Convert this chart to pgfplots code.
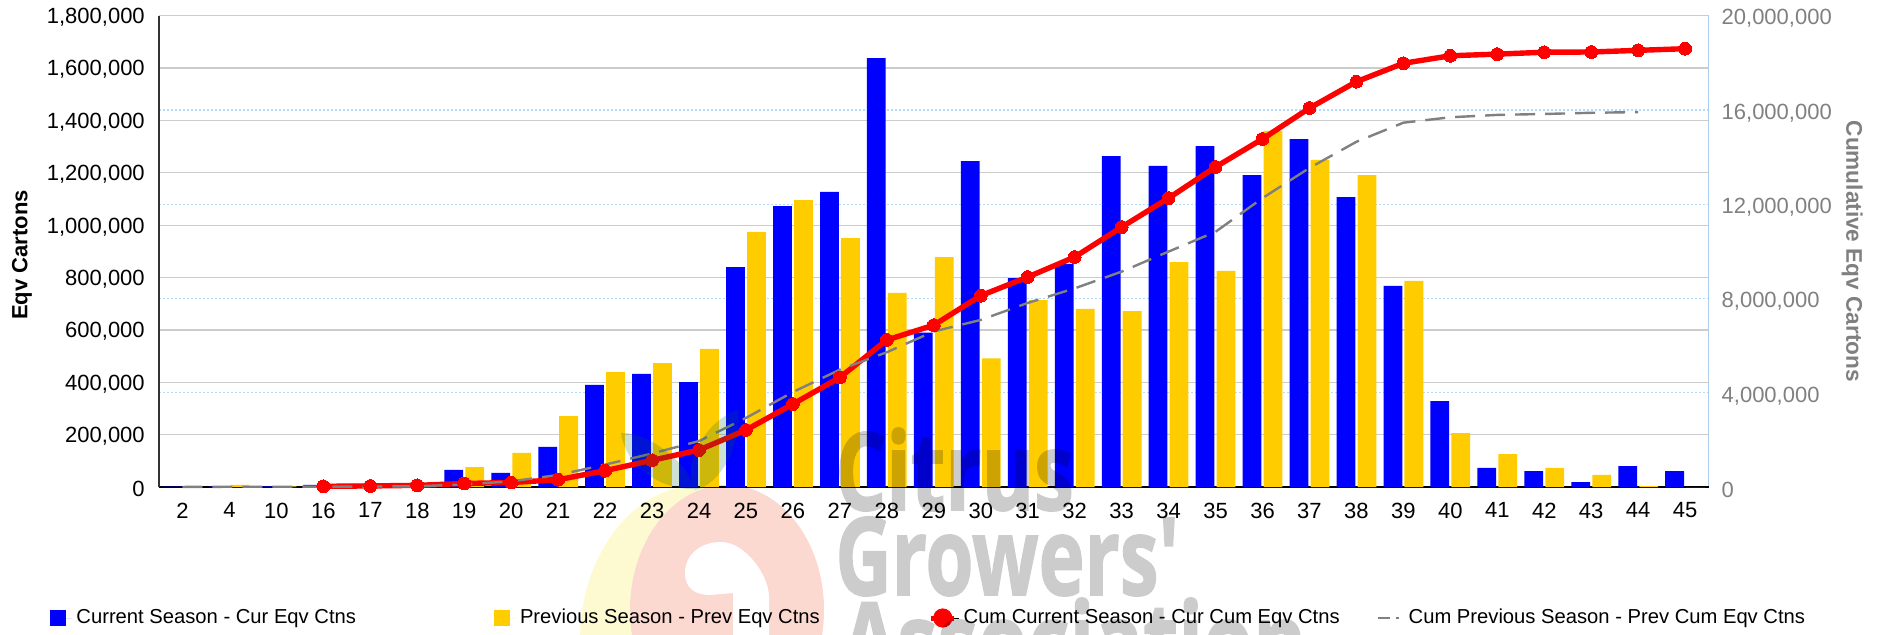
\documentclass[border=0pt]{standalone}
\usepackage{pgfplots}
\usepackage{pgfplotstable}
\usepackage{fontspec}
\pgfplotsset{compat=1.18}
\setmainfont{Liberation Sans}
\newfontfamily\logofont[BoldFeatures={FakeBold=1.6}]{Open Sans}

\definecolor{curblue}{RGB}{0,0,255}
\definecolor{prevyellow}{RGB}{255,204,0}
\definecolor{gridgray}{RGB}{204,204,204}
\definecolor{gridblue}{RGB}{180,218,250}
\definecolor{rightline}{RGB}{170,205,240}
\definecolor{axisgray}{RGB}{128,128,128}
\definecolor{logoyellow}{RGB}{253,250,210}
\definecolor{logosalmon}{RGB}{252,217,208}
\definecolor{leafgreen}{RGB}{0,100,50}

% idx week current previous
\pgfplotstableread{
idx cur prev
0 1500 2000
1 2000 8000
2 2000 2000
3 8000 2000
4 12000 8000
5 5000 13000
6 65000 76000
7 54000 130000
8 153000 271000
9 390000 439000
10 432000 473000
11 401000 528000
12 840000 974000
13 1073000 1096000
14 1127000 951000
15 1638000 741000
16 590000 878000
17 1245000 491000
18 798000 714000
19 852000 680000
20 1264000 672000
21 1226000 859000
22 1302000 825000
23 1191000 1360000
24 1329000 1249000
25 1107000 1191000
26 768000 787000
27 328000 206000
28 73000 126000
29 61000 73000
30 19000 46000
31 80000 3000
32 61000 0
}\weekly

\pgfplotstableread{
idx cum
3 30000
4 45000
5 70000
6 150000
7 190000
8 310000
9 692000
10 1133000
11 1570000
12 2419000
13 3520000
14 4650000
15 6240000
16 6870000
17 8120000
18 8910000
19 9760000
20 11030000
21 12260000
22 13580000
23 14770000
24 16080000
25 17200000
26 17980000
27 18300000
28 18370000
29 18450000
30 18460000
31 18530000
32 18600000
}\cumcur

\pgfplotstableread{
idx cum
0 2000
1 10000
2 12000
3 14000
4 20000
5 30000
6 110000
7 240000
8 510000
9 950000
10 1420000
11 1950000
12 2930000
13 4030000
14 4980000
15 5720000
16 6600000
17 7090000
18 7810000
19 8430000
20 9140000
21 9990000
22 10830000
23 12260000
24 13540000
25 14650000
26 15460000
27 15690000
28 15790000
29 15830000
30 15880000
31 15910000
}\cumprev

\pgfplotsset{
  cgabase/.style={
    scale only axis,
    width=774.8pt, height=235.65pt,
    xmin=-0.5, xmax=32.5,
    tick style={draw=none},
    major tick length=0pt,
    /pgf/number format/assume math mode=true,
    /pgf/number format/fixed,
    /pgf/number format/1000 sep={,},
    scaled y ticks=false,
    tick label style={font=\fontsize{11}{13}\selectfont},
    label style={font=\fontsize{11}{13}\selectfont\bfseries},
  },
}

\begin{document}
\begin{tikzpicture}
\useasboundingbox (-79.5pt,-73.5pt) rectangle (863pt,243.5pt);
\clip (-79.5pt,-73.5pt) rectangle (863pt,243.5pt);

% logo, behind the chart
\begin{scope}[x=0.5pt,y=-0.5pt,shift={(-159,-487)}]
  \fill[logoyellow] (700,640) ellipse [x radius=120, y radius=155];
  \fill[logosalmon] (727,610) ellipse [x radius=97, y radius=125];
  \fill[white] (721,542) .. controls (700,542) and (685,555) .. (685,573)
    .. controls (685,588) and (695,595) .. (710,595) -- (733,593) -- (733,640)
    -- (769,640) -- (769,597) .. controls (769,575) and (745,542) .. (721,542) -- cycle;
\end{scope}

% right scale, only its grid and labels
\begin{axis}[cgabase,
    axis y line*=right, axis x line=none,
    ymin=0, ymax=20000000,
    ytick={0,4000000,8000000,12000000,16000000,20000000},
    ymajorgrids=true,
    grid style={gridblue, line width=0.7pt, dash pattern=on 1pt off 1pt},
    y axis line style={rightline, line width=0.6pt},
    yticklabel style={text=axisgray, xshift=3pt, yshift=-1.5pt},
    ylabel={Cumulative Eqv Cartons},
    ylabel style={font=\fontsize{11.3}{13}\selectfont\bfseries, text=axisgray, rotate=180, at={(axis description cs:1.0926,0.5)}, anchor=center},
  ]
  \addplot[draw=none, forget plot] coordinates {(0,0)};
\end{axis}

% weekly bars, left scale
\begin{axis}[cgabase,
    ybar=1.1pt, bar width=0.4,
    axis y line*=left, axis x line*=bottom,
    ymin=0, ymax=1800000,
    ytick={0,200000,400000,600000,800000,1000000,1200000,1400000,1600000,1800000},
    xtick={0,...,32},
    xticklabels={2,4,10,16,17,18,19,20,21,22,23,24,25,26,27,28,29,30,31,32,33,34,35,36,37,38,39,40,41,42,43,44,45},
    ymajorgrids=true,
    grid style={gridgray, line width=0.6pt},
    y axis line style={black!80, line width=0.6pt},
    x axis line style={black, line width=0.7pt},
    xticklabel style={yshift=-4.3pt},
    yticklabel style={xshift=-3.6pt, yshift=-0.8pt},
    ylabel={Eqv Cartons},
    ylabel style={at={(axis description cs:-0.0884,0.4924)}, anchor=center},
    legend columns=4,
    legend style={
      at={(axis description cs:-0.0703,-0.278)}, anchor=west,
      draw=none, fill=none, inner sep=0pt,
      font=\fontsize{10.1}{12}\selectfont,
      /tikz/every odd column/.style={anchor=center},
      /tikz/column 2/.style={column sep=67pt},
      /tikz/column 4/.style={column sep=52.5pt},
      /tikz/column 6/.style={column sep=16.4pt},
    },
    legend cell align=left,
  ]
  \addplot[draw=none, fill=curblue,
    legend image code/.code={\path (0pt,0pt) -- (11pt,0pt); \fill[curblue] (0pt,-4pt) rectangle (8pt,4pt);}]
    table[x=idx, y=cur] {\weekly};
  \addlegendentry{Current Season - Cur Eqv Ctns}
  \addplot[draw=none, fill=prevyellow,
    legend image code/.code={\path (0pt,0pt) -- (11pt,0pt); \fill[prevyellow] (0pt,-4pt) rectangle (8pt,4pt);}]
    table[x=idx, y=prev] {\weekly};
  \addlegendentry{Previous Season - Prev Eqv Ctns}
  \addlegendimage{legend image code/.code={
    \path (0pt,0pt) -- (14pt,0pt);
    \draw[red, line width=2.5pt] (0pt,0pt) -- (11.5pt,0pt);
    \fill[red] (5.75pt,0pt) circle (4.6pt);}}
  \addlegendentry{Cum Current Season - Cur Cum Eqv Ctns}
  \addlegendimage{legend image code/.code={
    \draw[axisgray, line width=1.1pt, dash pattern=on 6pt off 3pt on 1.5pt off 3pt] (0pt,0pt) -- (13pt,0pt);}}
  \addlegendentry{Cum Previous Season - Prev Cum Eqv Ctns}
\end{axis}

% cumulative lines, right scale
\begin{axis}[cgabase, hide axis, clip=false,
    ymin=0, ymax=20000000,
  ]
  \addplot[red, line width=2.7pt, mark=*, mark size=3.2pt, mark options={fill=red, draw=red, line width=0pt}]
    table[x=idx, y=cum] {\cumcur};
  \addplot[axisgray, line width=1.2pt, dash pattern=on 10pt off 5pt]
    table[x=idx, y=cum] {\cumprev};
\end{axis}

% logo, over the chart
\begin{scope}[x=0.5pt,y=-0.5pt,shift={(-159,-487)}]
  \fill[leafgreen, opacity=0.2] (621,433) .. controls (650,432) and (690,465) .. (694,489)
    .. controls (660,490) and (625,465) .. (621,433) -- cycle;
  \fill[leafgreen, opacity=0.2] (738,410) .. controls (710,418) and (680,460) .. (695,490)
    .. controls (720,485) and (742,445) .. (738,410) -- cycle;
  \begin{scope}[transparency group, opacity=0.2]
    \tikzset{logotext/.style={inner sep=0pt, anchor=base west, text=black,
      font=\logofont\bfseries\fontsize{54}{54}\selectfont}}
    \node[logotext] at (835,510) {\scalebox{0.74}[1]{Citrus}};
    \node[logotext] at (835,595) {\scalebox{0.72}[1]{Growers'}};
    \node[logotext] at (841,680) {\scalebox{0.75}[1]{Association}};
  \end{scope}
\end{scope}
\end{tikzpicture}
\end{document}
